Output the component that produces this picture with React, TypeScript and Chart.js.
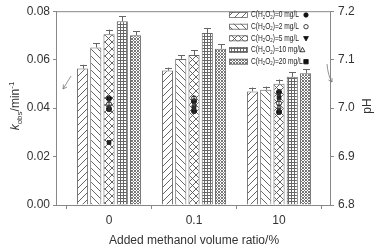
import React, { useEffect, useRef } from "react";
import { Chart, registerables } from "chart.js";

Chart.register(...registerables);

const categories = ["0", "0.1", "10"];
const catX = [0, 1, 2];
const seriesNames = ["0", "2", "5", "10", "20"];

const kobs0 = [0.0563, 0.0555, 0.0469];
const kobs2 = [0.065, 0.0603, 0.0476];
const kobs5 = [0.0705, 0.0619, 0.0501];
const kobs10 = [0.0758, 0.071, 0.0529];
const kobs20 = [0.0701, 0.0645, 0.0544];

const kerr0 = [0.0016, 0.0012, 0.0016];
const kerr2 = [0.0018, 0.0015, 0.0013];
const kerr5 = [0.0019, 0.0021, 0.0017];
const kerr10 = [0.0022, 0.0021, 0.0018];
const kerr20 = [0.0016, 0.0019, 0.0016];

const ph0 = [7.02, 7.014, 7.033];
const ph2 = [7.008, 7.02, 7.01];
const ph5 = [6.998, 6.994, 6.992];
const ph10 = [7.002, 7.006, 7.002];
const ph20 = [6.929, 7.002, 7.022];
const phErr = [0.004, 0.004, 0.004];

const kobsTicks = [0, 0.02, 0.04, 0.06, 0.08];
const phTicks = [6.8, 6.9, 7.0, 7.1, 7.2];

const FONT = "Arial, 'Liberation Sans', sans-serif";
const LINE = "#666";

function makePattern(kind: string): CanvasPattern | string {
  const c = document.createElement("canvas");
  const size = kind === "p0" || kind === "p2" || kind === "p5" ? 7 : 3;
  c.width = size;
  c.height = size;
  const g = c.getContext("2d");
  if (!g) return "#fff";
  g.fillStyle = "#fff";
  g.fillRect(0, 0, size, size);
  g.strokeStyle = "#555";
  g.lineWidth = 0.9;
  const fwd = () => {
    g.beginPath();
    g.moveTo(-1, size + 1);
    g.lineTo(size + 1, -1);
    g.stroke();
  };
  const back = () => {
    g.beginPath();
    g.moveTo(-1, -1);
    g.lineTo(size + 1, size + 1);
    g.stroke();
  };
  if (kind === "p0") fwd();
  if (kind === "p2") back();
  if (kind === "p5") {
    fwd();
    back();
  }
  if (kind === "p10") {
    g.fillStyle = "#666";
    g.fillRect(0, 0, size, 1);
    g.fillRect(0, 0, 1, size);
  }
  if (kind === "p20") {
    g.fillStyle = "#777";
    g.fillRect(0, 0, 1, 1);
    g.fillRect(1, 1, 1, 1);
    g.fillRect(2, 2, 1, 1);
    g.fillRect(2, 0, 1, 1);
    g.fillRect(0, 2, 1, 1);
  }
  const p = g.createPattern(c, "repeat");
  return p || "#fff";
}

type Part = { t: string; size: number; dy: number; italic?: boolean };

function richWidth(ctx: CanvasRenderingContext2D, parts: Part[]) {
  let w = 0;
  for (const p of parts) {
    ctx.font = `${p.italic ? "italic " : ""}${p.size}px ${FONT}`;
    w += ctx.measureText(p.t).width;
  }
  return w;
}

function drawRich(ctx: CanvasRenderingContext2D, parts: Part[], x: number, y: number) {
  let cx = x;
  for (const p of parts) {
    ctx.font = `${p.italic ? "italic " : ""}${p.size}px ${FONT}`;
    ctx.fillText(p.t, cx, y + p.dy);
    cx += ctx.measureText(p.t).width;
  }
  return cx;
}

const markerStyles = [
  { style: "circle", fill: "#111" },
  { style: "circle", fill: "#fff" },
  { style: "triangleDown", fill: "#111" },
  { style: "triangle", fill: "#fff" },
  { style: "rect", fill: "#111" },
];

function drawMarker(ctx: CanvasRenderingContext2D, kind: string, fill: string, x: number, y: number, r: number) {
  ctx.save();
  ctx.fillStyle = fill;
  ctx.strokeStyle = "#111";
  ctx.lineWidth = 0.8;
  ctx.beginPath();
  if (kind === "circle") ctx.arc(x, y, r, 0, Math.PI * 2);
  else if (kind === "rect") ctx.rect(x - r, y - r, 2 * r, 2 * r);
  else if (kind === "triangle") {
    ctx.moveTo(x, y - r * 1.2);
    ctx.lineTo(x + r * 1.1, y + r * 0.8);
    ctx.lineTo(x - r * 1.1, y + r * 0.8);
    ctx.closePath();
  } else {
    ctx.moveTo(x, y + r * 1.2);
    ctx.lineTo(x + r * 1.1, y - r * 0.8);
    ctx.lineTo(x - r * 1.1, y - r * 0.8);
    ctx.closePath();
  }
  ctx.fill();
  ctx.stroke();
  ctx.restore();
}

export default function App() {
  const ref = useRef<HTMLCanvasElement | null>(null);

  useEffect(() => {
    if (!ref.current) return;
    const patterns = ["p0", "p2", "p5", "p10", "p20"].map(makePattern);
    const kobs = [kobs0, kobs2, kobs5, kobs10, kobs20];
    const kerr = [kerr0, kerr2, kerr5, kerr10, kerr20];
    const ph = [ph0, ph2, ph5, ph10, ph20];

    const barSets = kobs.map((vals, i) => ({
      type: "bar" as const,
      label: `C(H2O2)=${seriesNames[i]} mg/L`,
      data: vals.map((v, j) => ({ x: catX[j], y: v })),
      backgroundColor: patterns[i],
      borderColor: LINE,
      borderWidth: 1,
      yAxisID: "y",
      categoryPercentage: 0.78,
      barPercentage: 0.84,
      order: 2,
    }));
    const pointSets = ph.map((vals, i) => ({
      type: "scatter" as const,
      label: `pH ${seriesNames[i]}`,
      data: vals.map((v, j) => ({ x: catX[j], y: v })),
      pointStyle: markerStyles[i].style,
      pointRadius: 2.6,
      pointBackgroundColor: markerStyles[i].fill,
      pointBorderColor: "#111",
      pointBorderWidth: 0.8,
      showLine: false,
      yAxisID: "y2",
      order: 1,
    }));

    const overlay = {
      id: "overlay",
      afterDatasetsDraw(chart: any) {
        const ctx: CanvasRenderingContext2D = chart.ctx;
        const xs = chart.scales.x;
        const ys = chart.scales.y;
        const y2 = chart.scales.y2;
        const area = chart.chartArea;
        ctx.save();
        // bar error bars
        ctx.strokeStyle = LINE;
        ctx.lineWidth = 1;
        kobs.forEach((vals, i) => {
          const meta = chart.getDatasetMeta(i);
          vals.forEach((v, j) => {
            const bar = meta.data[j];
            const x = Math.round(bar.x) + 0.5;
            const yTop = ys.getPixelForValue(v + kerr[i][j]);
            const yv = ys.getPixelForValue(v);
            ctx.beginPath();
            ctx.moveTo(x, yv);
            ctx.lineTo(x, yTop);
            ctx.moveTo(x - 3.5, Math.round(yTop) + 0.5);
            ctx.lineTo(x + 3.5, Math.round(yTop) + 0.5);
            ctx.stroke();
          });
        });
        // pH error bars
        ctx.strokeStyle = "#333";
        ph.forEach((vals, i) => {
          vals.forEach((v, j) => {
            const x = xs.getPixelForValue(catX[j]);
            const a = y2.getPixelForValue(v + phErr[j]);
            const b = y2.getPixelForValue(v - phErr[j]);
            ctx.beginPath();
            ctx.moveTo(x, a);
            ctx.lineTo(x, b);
            ctx.moveTo(x - 2, a);
            ctx.lineTo(x + 2, a);
            ctx.moveTo(x - 2, b);
            ctx.lineTo(x + 2, b);
            ctx.stroke();
          });
        });
        // top frame line
        ctx.strokeStyle = "#888";
        ctx.beginPath();
        ctx.moveTo(area.left, area.top + 0.5);
        ctx.lineTo(area.right, area.top + 0.5);
        ctx.stroke();

        // legend
        const rows = [15, 26.7, 38.3, 50, 61.7];
        rows.forEach((ry, i) => {
          ctx.fillStyle = patterns[i] as any;
          ctx.fillRect(229, ry - 3, 19, 6);
          ctx.strokeStyle = LINE;
          ctx.lineWidth = 0.8;
          ctx.strokeRect(229.5, ry - 2.5, 18, 5);
          ctx.fillStyle = "#222";
          ctx.textBaseline = "middle";
          ctx.textAlign = "left";
          const parts: Part[] = [
            { t: "C(H", size: 8.5, dy: 0 },
            { t: "2", size: 5.5, dy: 2 },
            { t: "O", size: 8.5, dy: 0 },
            { t: "2", size: 5.5, dy: 2 },
            { t: `)=${seriesNames[i]} mg/L`, size: 8.5, dy: 0 },
          ];
          ctx.save();
          ctx.translate(251, ry);
          ctx.scale(0.78, 1);
          drawRich(ctx, parts, 0, 0);
          ctx.restore();
          drawMarker(ctx, markerStyles[i].style, markerStyles[i].fill, i === 3 ? 302.5 : 306, ry, 2.2);
        });

        // arrows
        ctx.strokeStyle = "#777";
        ctx.lineWidth = 0.8;
        ctx.beginPath();
        ctx.moveTo(71, 76);
        ctx.lineTo(63, 89);
        ctx.moveTo(63, 89);
        ctx.lineTo(63.5, 84.5);
        ctx.moveTo(63, 89);
        ctx.lineTo(67, 87);
        ctx.stroke();
        ctx.beginPath();
        ctx.moveTo(327, 64);
        ctx.quadraticCurveTo(328, 76, 332, 82);
        ctx.moveTo(332, 82);
        ctx.lineTo(328.5, 80);
        ctx.moveTo(332, 82);
        ctx.lineTo(332, 78);
        ctx.stroke();

        // axis titles
        ctx.fillStyle = "#333";
        ctx.textBaseline = "alphabetic";
        ctx.save();
        ctx.translate(19, 106);
        ctx.rotate(-Math.PI / 2);
        const lparts: Part[] = [
          { t: "k", size: 12, dy: 0, italic: true },
          { t: "obs", size: 8, dy: 2.5 },
          { t: "/min", size: 12, dy: 0 },
          { t: "-1", size: 8, dy: -5 },
        ];
        const lw = richWidth(ctx, lparts);
        drawRich(ctx, lparts, -lw / 2, 0);
        ctx.restore();

        ctx.save();
        ctx.translate(371, 106);
        ctx.rotate(-Math.PI / 2);
        ctx.font = `12px ${FONT}`;
        ctx.textAlign = "center";
        ctx.fillText("pH", 0, 0);
        ctx.restore();

        ctx.font = `12px ${FONT}`;
        ctx.textAlign = "center";
        ctx.fillText("Added methanol volume ratio/%", (area.left + area.right) / 2 + 1, 244);
        ctx.restore();
      },
    };

    const chart = new Chart(ref.current, {
      type: "bar",
      data: { datasets: [...barSets, ...pointSets] as any },
      options: {
        responsive: false,
        animation: false,
        devicePixelRatio: 1,
        layout: { padding: { top: 9, left: 0, right: 0, bottom: 0 } },
        plugins: { legend: { display: false }, tooltip: { enabled: false } },
        scales: {
          x: {
            type: "linear",
            min: -0.624,
            max: 2.6,
            offset: false,
            grid: { display: true, drawOnChartArea: false, drawTicks: true, tickLength: 4, color: "#888" },
            border: { display: true, color: "#888" },
            ticks: {
              color: "#333",
              font: { family: FONT, size: 12 },
              padding: 4,
              callback: (v: any) => categories[catX.indexOf(Number(v))] ?? "",
            },
            afterBuildTicks: (s: any) => {
              s.ticks = catX.map((v) => ({ value: v }));
            },
            afterFit: (s: any) => {
              s.height = 46;
            },
          },
          y: {
            type: "linear",
            position: "left",
            min: 0,
            max: 0.08,
            grid: { display: true, drawOnChartArea: false, drawTicks: true, tickLength: 3, color: "#888" },
            border: { display: true, color: "#888" },
            ticks: {
              color: "#333",
              font: { family: FONT, size: 12 },
              padding: 3,
              callback: (v: any) => Number(v).toFixed(2),
            },
            afterBuildTicks: (s: any) => {
              s.ticks = kobsTicks.map((v) => ({ value: v }));
            },
            afterFit: (s: any) => {
              s.width = 56;
            },
          },
          y2: {
            type: "linear",
            position: "right",
            min: 6.8,
            max: 7.2,
            grid: { display: true, drawOnChartArea: false, drawTicks: true, tickLength: 4, color: "#888" },
            border: { display: true, color: "#888" },
            ticks: {
              color: "#333",
              font: { family: FONT, size: 12 },
              padding: 4,
              callback: (v: any) => Number(v).toFixed(1),
            },
            afterBuildTicks: (s: any) => {
              s.ticks = phTicks.map((v) => ({ value: v }));
            },
            afterFit: (s: any) => {
              s.width = 53;
            },
          },
        },
      } as any,
      plugins: [overlay],
    });
    return () => chart.destroy();
  }, []);

  return (
    <div style={{ position: "fixed", left: 0, top: 0, width: 383, height: 251, background: "#fff" }}>
      <canvas ref={ref} width={383} height={251} style={{ display: "block" }} />
    </div>
  );
}
